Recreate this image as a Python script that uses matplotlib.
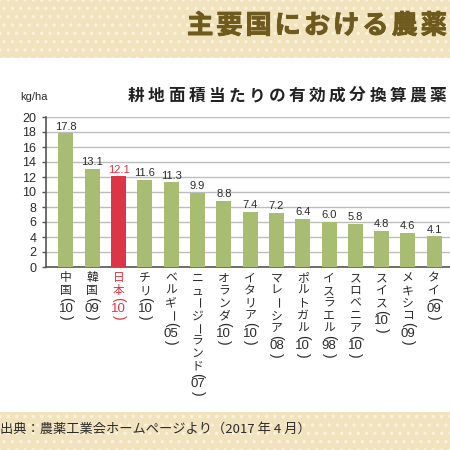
import matplotlib

matplotlib.use("Agg")

import matplotlib.pyplot as plt
import matplotlib.patheffects as pe
from matplotlib.patches import Rectangle
from matplotlib.transforms import blended_transform_factory

plt.rcParams["font.family"] = ["Noto Sans CJK JP", "DejaVu Sans"]
plt.rcParams["hatch.linewidth"] = 1.2

# the reference is cropped at the right edge: only part of the titles is shown
TITLE = "主要国における農薬使"
SUBTITLE = "耕地面積当たりの有効成分換算農薬"
UNIT = "kg/ha"
SOURCE = "出典：農薬工業会ホームページより（2017 年 4 月）"

countries = [
    "中国", "韓国", "日本", "チリ", "ベルギー", "ニュージーランド", "オランダ",
    "イタリア", "マレーシア", "ポルトガル", "イスラエル", "スロベニア",
    "スイス", "メキシコ", "タイ",
]
years = ["10", "09", "10", "10", "05", "07", "10", "10", "08", "10", "98", "10", "10", "09", "09"]
values = [17.8, 13.1, 12.1, 11.6, 11.3, 9.9, 8.8, 7.4, 7.2, 6.4, 6.0, 5.8, 4.8, 4.6, 4.1]
highlight = "日本"

GREEN = "#a8bc72"
RED = "#dc3546"
RED_TEXT = "#e8323f"
BEIGE = "#f2e3bf"
DOTS = "#faf2dc"
TITLE_COLOR = "#6e5a1c"
TEXT = "#2a2a2a"
NUM_FONT = ["Liberation Sans", "DejaVu Sans"]

W = H = 450.0


def fy(px):
    return 1 - px / H


fig = plt.figure(figsize=(4.5, 4.5), dpi=100)
fig.patch.set_facecolor("white")

# banners
for y0, y1 in [(0, 58), (412, 450)]:
    fig.patches.append(
        Rectangle((0, fy(y1)), 1, (y1 - y0) / H, transform=fig.transFigure,
                  facecolor=BEIGE, edgecolor=DOTS, hatch="..", linewidth=0, zorder=0)
    )

for k, ch in enumerate(TITLE):
    fig.text((187 + k * 29.2) / W, fy(26), ch, fontsize=19, fontweight="bold",
             color=TITLE_COLOR, ha="left", va="center",
             path_effects=[pe.withStroke(linewidth=0.6, foreground=TITLE_COLOR)])

for k, ch in enumerate(SUBTITLE):
    fig.text((128 + k * 20.1) / W, fy(96), ch, fontsize=12, fontweight="bold",
             color="#222222", ha="left", va="center")

fig.text(20 / W, fy(97), UNIT, fontsize=8, color=TEXT, ha="left", va="center",
         family=NUM_FONT)

fig.text(0, fy(429), SOURCE, fontsize=9.5, color=TEXT, ha="left", va="center")

ax = fig.add_axes([46 / W, fy(267), 1 - 46 / W, (267 - 117) / H])
x = list(range(len(countries)))
colors = [RED if c == highlight else GREEN for c in countries]
ax.bar(x, values, width=0.57, color=colors, zorder=3)

ax.set_xlim(-0.76, 14.6)
ax.set_ylim(0, 20)
ax.set_yticks(range(0, 21, 2))
ax.set_xticks([])
ax.grid(axis="y", color="#bdbdbd", linewidth=1.0, zorder=0)
ax.set_axisbelow(True)
for side in ["top", "right"]:
    ax.spines[side].set_visible(False)
for side in ["left", "bottom"]:
    ax.spines[side].set_color("#555555")
    ax.spines[side].set_linewidth(1.2)
ax.tick_params(axis="y", direction="out", length=3, width=1, color="#555555",
               labelsize=9, labelcolor=TEXT, pad=4)
for lab in ax.get_yticklabels():
    lab.set_family(NUM_FONT)

for i, (c, v) in enumerate(zip(countries, values)):
    ax.annotate(f"{v:.1f}", (i, v), xytext=(0, 1.2), textcoords="offset points",
                ha="center", va="bottom", fontsize=8,
                color=RED_TEXT if c == highlight else TEXT, family=NUM_FONT)

# vertical (tategaki) category labels
trans = blended_transform_factory(ax.transData, fig.transFigure)
pitch = 12.6
for i, (c, yr) in enumerate(zip(countries, years)):
    col = RED_TEXT if c == highlight else TEXT
    y = 278
    for k, ch in enumerate(c):
        y = 278 + k * pitch
        ax.text(i, fy(y), ch, transform=trans, fontsize=8.5, color=col,
                ha="center", va="center", rotation=-90 if ch == "ー" else 0,
                clip_on=False)
    ax.text(i, fy(y + 9), "(", transform=trans, fontsize=10, color=col,
            ha="center", va="center", rotation=-90, clip_on=False, family=NUM_FONT)
    ax.text(i, fy(y + 18), yr, transform=trans, fontsize=9.5, color=col,
            ha="center", va="center", clip_on=False, family=NUM_FONT)
    ax.text(i, fy(y + 27), ")", transform=trans, fontsize=10, color=col,
            ha="center", va="center", rotation=-90, clip_on=False, family=NUM_FONT)

fig.savefig("out.png", dpi=100)
